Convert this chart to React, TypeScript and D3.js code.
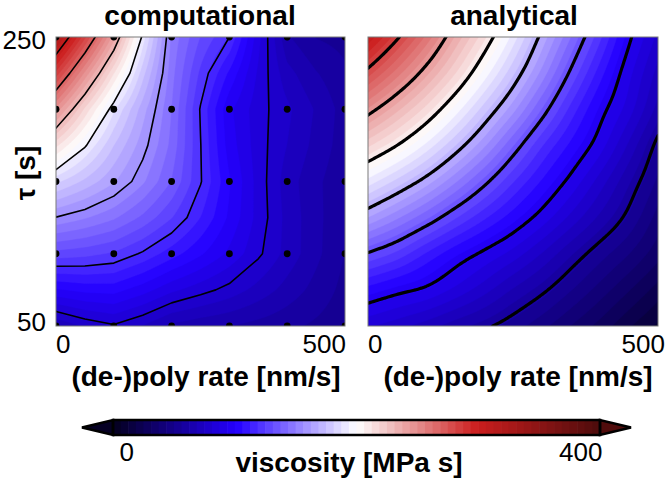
import React, { useMemo } from "react";
import * as d3 from "d3";

// ---------- data ----------
const ratesComp = [0, 100, 200, 300, 400, 500];
const tausComp = [250, 200, 150, 100, 50];
const viscComp = [
  [335, 246, 147, 115, 56, 46],
  [254, 190, 142, 90, 70, 52],
  [184, 163, 135, 96, 65, 50],
  [126, 121, 105, 87, 66, 48],
  [62, 74, 60, 55, 50, 44],
];
const levelsComp = [75, 115, 155, 195, 235, 275, 315];

const ratesAna = [0, 50, 100, 150, 200, 250, 300, 350, 400, 450, 500];
const tausAna = [250, 225, 200, 175, 150, 125, 100, 75, 50];
const viscAna = [
  [315, 292, 268, 242, 218, 193, 167, 142, 117, 92, 73],
  [286, 266, 245, 223, 200, 177, 153, 128, 105, 84, 66],
  [255, 238, 220, 200, 179, 158, 135, 113, 94, 78, 59],
  [224, 210, 194, 176, 157, 136, 116, 100, 85, 67, 47],
  [193, 180, 166, 150, 133, 116, 101, 87, 72, 56, 40],
  [162, 150, 137, 123, 110, 98, 86, 73, 60, 47, 32],
  [129, 120, 108, 97, 88, 79, 68, 56, 45, 35, 24],
  [99, 93, 88, 80, 71, 61, 52, 42, 32, 22, 12],
  [76, 71, 65, 58, 52, 45, 37, 28, 19, 9, 0],
];
const levelsAna = [50, 90, 130, 170, 210, 250, 290];

const colorTicks = [0, 400];
const colorDomain = [-12, 417];
const colorStops = ["#050024", "#2400ff", "#ffffff", "#cc1e1e", "#500c0c"];
const nColors = 64;
const rateTicks = [0, 500];
const tauTicks = [50, 250];

// ---------- helpers ----------
const clamp = (v: number, a: number, b: number) => Math.max(a, Math.min(b, v));
function cr(p0: number, p1: number, p2: number, p3: number, t: number) {
  const t2 = t * t, t3 = t2 * t;
  return 0.5 * (2 * p1 + (-p0 + p2) * t + (2 * p0 - 5 * p1 + 4 * p2 - p3) * t2 + (-p0 + 3 * p1 - 3 * p2 + p3) * t3);
}
function at(g: number[][], i: number, j: number): number {
  const nx = g[0].length, ny = g.length;
  const row = (jj: number) => {
    if (i < 0) return 2 * g[jj][0] - g[jj][1];
    if (i > nx - 1) return 2 * g[jj][nx - 1] - g[jj][nx - 2];
    return g[jj][i];
  };
  if (j < 0) return 2 * row(0) - row(1);
  if (j > ny - 1) return 2 * row(ny - 1) - row(ny - 2);
  return row(j);
}
function bicubic(g: number[][], fx: number, fy: number) {
  const nx = g[0].length, ny = g.length;
  fx = clamp(fx, 0, nx - 1);
  fy = clamp(fy, 0, ny - 1);
  const i = Math.min(Math.floor(fx), nx - 2), j = Math.min(Math.floor(fy), ny - 2);
  const tx = fx - i, ty = fy - j;
  const c = [-1, 0, 1, 2].map((dj) => cr(at(g, i - 1, j + dj), at(g, i, j + dj), at(g, i + 1, j + dj), at(g, i + 2, j + dj), tx));
  return cr(c[0], c[1], c[2], c[3], ty);
}
function bilinear(g: number[][], fx: number, fy: number) {
  const nx = g[0].length, ny = g.length;
  fx = clamp(fx, 0, nx - 1);
  fy = clamp(fy, 0, ny - 1);
  const i = Math.min(Math.floor(fx), nx - 2), j = Math.min(Math.floor(fy), ny - 2);
  const tx = fx - i, ty = fy - j;
  const a = g[j][i] * (1 - tx) + g[j][i + 1] * tx;
  const b = g[j + 1][i] * (1 - tx) + g[j + 1][i + 1] * tx;
  return a * (1 - ty) + b * ty;
}

const cmap = d3.scaleLinear<string>().domain([0, 0.25, 0.5, 0.75, 1]).range(colorStops).interpolate(d3.interpolateRgb);
const palette = d3.range(nColors).map((k) => cmap(k / (nColors - 1)));
const bandW = (colorDomain[1] - colorDomain[0]) / nColors;
const fillThresholds = d3.range(1, nColors).map((k) => colorDomain[0] + k * bandW);

const N = 146;
const PAD = 3;
const Y0 = 37, Y1 = 326;

type PanelProps = {
  id: string; x0: number; x1: number; fn: (rate: number, tau: number) => number;
  levels: number[]; lineW: number; dots: boolean; lineGrid?: number[][];
};

function Panel({ id, x0, x1, fn, levels, lineW, dots, lineGrid }: PanelProps) {
  const xs = d3.scaleLinear().domain([0, 500]).range([x0, x1]);
  const ys = d3.scaleLinear().domain([250, 50]).range([Y0, Y1]);
  const { fills, lines } = useMemo(() => {
    const n = N + 2 * PAD;
    const vals = new Array(n * n);
    for (let k = 0; k < n; k++) {
      for (let l = 0; l < n; l++) {
        const u = clamp((l - PAD) / (N - 1), 0, 1);
        const v = clamp((k - PAD) / (N - 1), 0, 1);
        vals[k * n + l] = fn(u * 500, 250 - v * 200);
      }
    }
    const proj = d3.geoTransform({
      point(x: number, y: number) {
        const rate = ((x - 0.5 - PAD) / (N - 1)) * 500;
        const tau = 250 - ((y - 0.5 - PAD) / (N - 1)) * 200;
        (this as any).stream.point(xs(rate), ys(tau));
      },
    });
    const path = d3.geoPath(proj);
    const fills = d3.contours().size([n, n]).thresholds(fillThresholds)(vals)
      .map((c, k) => ({ d: path(c as any) || "", color: palette[k + 1] }));
    let lines: string[];
    if (lineGrid) {
      const gx = lineGrid[0].length, gy = lineGrid.length;
      const gvals: number[] = [];
      lineGrid.forEach((row) => row.forEach((v) => gvals.push(v)));
      const gproj = d3.geoTransform({
        point(x: number, y: number) {
          const rate = ((x - 0.5) / (gx - 1)) * 500;
          const tau = 250 - ((y - 0.5) / (gy - 1)) * 200;
          (this as any).stream.point(xs(rate), ys(tau));
        },
      });
      const gpath = d3.geoPath(gproj);
      lines = d3.contours().size([gx, gy]).thresholds(levels)(gvals).map((c) => gpath(c as any) || "");
    } else {
      lines = d3.contours().size([n, n]).thresholds(levels)(vals).map((c) => path(c as any) || "");
    }
    return { fills, lines };
  }, [x0, x1]);
  return (
    <g>
      <defs>
        <clipPath id={id}>
          <rect x={x0} y={Y0} width={x1 - x0} height={Y1 - Y0} />
        </clipPath>
      </defs>
      <g clipPath={`url(#${id})`}>
        <rect x={x0} y={Y0} width={x1 - x0} height={Y1 - Y0} fill={palette[0]} />
        {fills.map((f, i) => (
          <path key={i} d={f.d} fill={f.color} stroke={f.color} strokeWidth={0.4} />
        ))}
        {lines.map((d, i) => (
          <path key={"l" + i} d={d} fill="none" stroke="#000" strokeWidth={lineW} strokeLinejoin="round" />
        ))}
        {dots &&
          tausComp.map((t) =>
            ratesComp.map((r) => <circle key={r + "-" + t} cx={xs(r)} cy={ys(t)} r={3.4} fill="#000" />)
          )}
      </g>
      <rect x={x0} y={Y0} width={x1 - x0} height={Y1 - Y0} fill="none" stroke="#7a7a7a" strokeWidth={1} />
    </g>
  );
}

// refined computational grid (half steps) via Catmull-Rom
const refinedComp: number[][] = d3.range(2 * (tausComp.length - 1) + 1).map((j) =>
  d3.range(2 * (ratesComp.length - 1) + 1).map((i) => bicubic(viscComp, i / 2, j / 2))
);
const compIdxX = d3.scaleLinear().domain(d3.extent(ratesComp) as [number, number]).range([0, 2 * (ratesComp.length - 1)]);
const compIdxY = d3.scaleLinear().domain([tausComp[0], tausComp[tausComp.length - 1]]).range([0, 2 * (tausComp.length - 1)]);
const anaIdxX = d3.scaleLinear().domain(d3.extent(ratesAna) as [number, number]).range([0, ratesAna.length - 1]);
const anaIdxY = d3.scaleLinear().domain([tausAna[0], tausAna[tausAna.length - 1]]).range([0, tausAna.length - 1]);

const compFn = (rate: number, tau: number) => bilinear(refinedComp, compIdxX(rate), compIdxY(tau));
const anaFn = (rate: number, tau: number) => bicubic(viscAna, anaIdxX(rate), anaIdxY(tau));

const FONT = "'Liberation Sans', Arial, Helvetica, sans-serif";

export default function App() {
  const cbX0 = 113, cbX1 = 600, cbY0 = 420, cbY1 = 435;
  const cbScale = d3.scaleLinear().domain(colorDomain).range([cbX0, cbX1]);
  const cbMid = (cbY0 + cbY1) / 2;
  return (
    <svg width={666} height={479} style={{ position: "absolute", left: 0, top: 0, background: "#fff" }} fontFamily={FONT}>
      <rect x={0} y={0} width={666} height={479} fill="#fff" />
      <Panel id="clipComp" x0={56} x1={345} fn={compFn} levels={levelsComp} lineW={1.6} dots={true} lineGrid={refinedComp} />
      <Panel id="clipAna" x0={368} x1={658} fn={anaFn} levels={levelsAna} lineW={3.2} dots={false} />

      {/* titles */}
      <text x={200} y={25} fontSize={28} fontWeight="bold" textAnchor="middle">computational</text>
      <text x={514} y={25} fontSize={28} fontWeight="bold" textAnchor="middle">analytical</text>

      {/* y ticks */}
      <text x={46} y={49} fontSize={26} textAnchor="end">{tauTicks[1]}</text>
      <text x={46} y={331} fontSize={26} textAnchor="end">{tauTicks[0]}</text>
      <text transform="translate(35,173) rotate(-90)" fontSize={28} fontWeight="bold" textAnchor="middle">τ [s]</text>

      {/* x ticks */}
      <text x={56} y={353} fontSize={26} textAnchor="start">{rateTicks[0]}</text>
      <text x={346} y={353} fontSize={26} textAnchor="end">{rateTicks[1]}</text>
      <text x={368} y={353} fontSize={26} textAnchor="start">{rateTicks[0]}</text>
      <text x={665} y={353} fontSize={26} textAnchor="end">{rateTicks[1]}</text>
      <text x={206} y={386} fontSize={28} fontWeight="bold" textAnchor="middle">(de-)poly rate [nm/s]</text>
      <text x={518} y={386} fontSize={28} fontWeight="bold" textAnchor="middle">(de-)poly rate [nm/s]</text>

      {/* colorbar */}
      {palette.map((c, k) => (
        <rect key={k} x={cbScale(colorDomain[0] + k * bandW)} y={cbY0} width={(cbX1 - cbX0) / nColors + 0.6} height={cbY1 - cbY0} fill={c} />
      ))}
      <polygon points={`${cbX0 - 31},${cbMid} ${cbX0},${cbY0} ${cbX0},${cbY1}`} fill={palette[0]} stroke="#000" strokeWidth={2.5} strokeLinejoin="miter" />
      <polygon points={`${cbX1 + 31},${cbMid} ${cbX1},${cbY0} ${cbX1},${cbY1}`} fill={palette[nColors - 1]} stroke="#000" strokeWidth={2.5} strokeLinejoin="miter" />
      <rect x={cbX0} y={cbY0} width={cbX1 - cbX0} height={cbY1 - cbY0} fill="none" stroke="#000" strokeWidth={2.5} />
      {colorTicks.map((t) => (
        <text key={t} x={cbScale(t)} y={461} fontSize={26} textAnchor="middle">{t}</text>
      ))}
      <text x={349} y={472} fontSize={28} fontWeight="bold" textAnchor="middle">viscosity [MPa s]</text>
    </svg>
  );
}
